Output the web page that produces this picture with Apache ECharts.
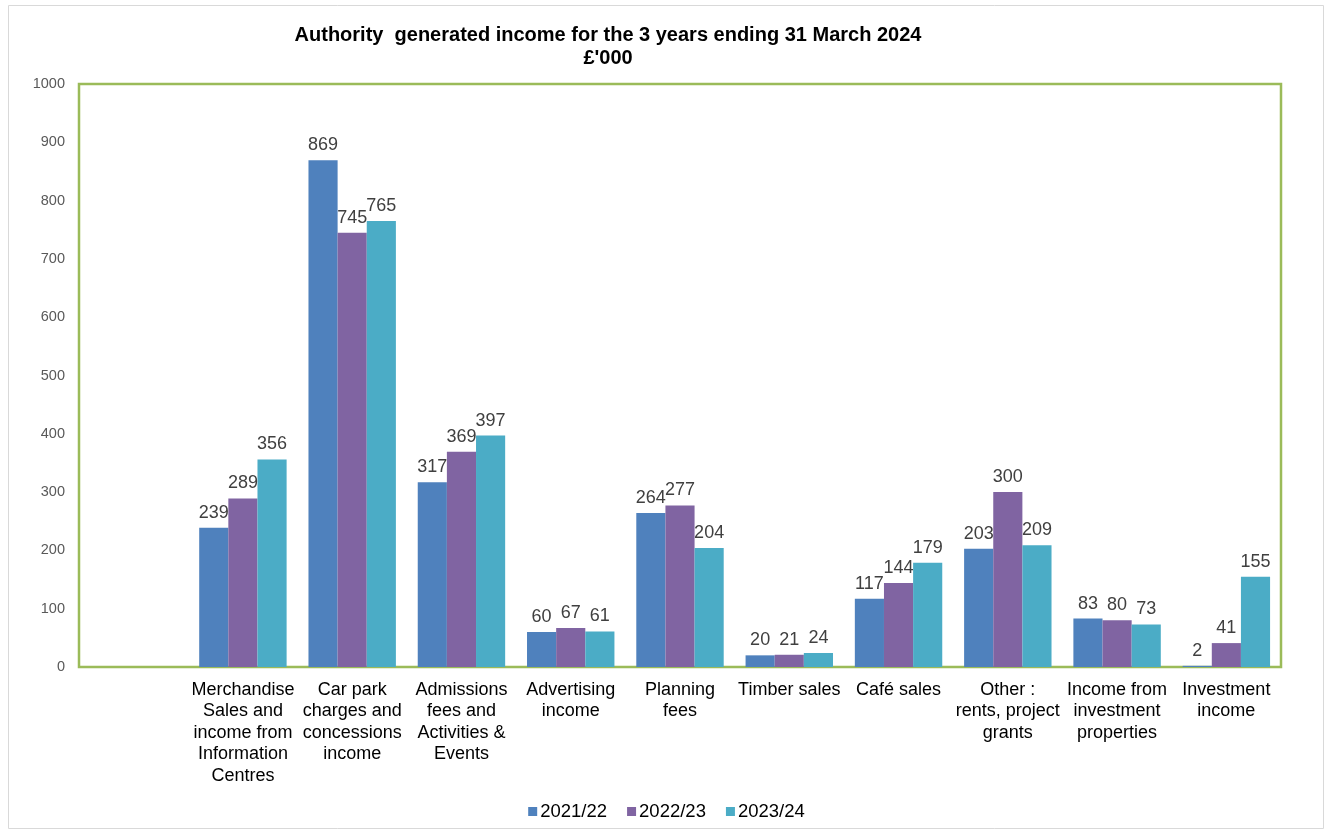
<!DOCTYPE html>
<html><head><meta charset="utf-8">
<script src="https://cdn.jsdelivr.net/npm/echarts@6/dist/echarts.min.js"></script>
<style>html,body{margin:0;padding:0;background:#fff}#c{width:1333px;height:831px}</style>
</head><body><div id="c"></div>
<script>
const categories = ['', 'Merchandise\nSales and\nincome from\nInformation\nCentres', 'Car park\ncharges and\nconcessions\nincome', 'Admissions\nfees and\nActivities &\nEvents', 'Advertising\nincome', 'Planning\nfees', 'Timber sales', 'Café sales', 'Other :\nrents, project\ngrants', 'Income from\ninvestment\nproperties', 'Investment\nincome'];
const s2122 = [null, 239, 869, 317, 60, 264, 20, 117, 203, 83, 2];
const s2223 = [null, 289, 745, 369, 67, 277, 21, 144, 300, 80, 41];
const s2324 = [null, 356, 765, 397, 61, 204, 24, 179, 209, 73, 155];
const seriesNames = ['2021/22', '2022/23', '2023/24'];
const colors = ['#4F81BD', '#8064A2', '#4BACC6'];

const chart = echarts.init(document.getElementById('c'));
const font = 'Liberation Sans, Arial, sans-serif';
const mk = (name, data, color) => ({
  name, type: 'bar', data, barGap: '0%', barCategoryGap: '20%',
  itemStyle: { color },
  label: { show: true, position: 'top', distance: 6, color: '#404040', fontSize: 18, fontFamily: font }
});
chart.setOption({
  animation: false,
  color: colors,
  graphic: [{ type: 'rect', shape: { x: 8.5, y: 5.5, width: 1315, height: 823 }, style: { fill: 'none', stroke: '#d9d9d9', lineWidth: 1 }, z: -1 }],
  title: {
    text: "Authority  generated income for the 3 years ending 31 March 2024\n£'000",
    left: 603, top: 19, textAlign: 'center',
    textStyle: { fontFamily: font, fontSize: 20, fontWeight: 'bold', color: '#000', lineHeight: 23 }
  },
  legend: {
    bottom: 5, left: 'center', itemWidth: 9, itemHeight: 9, itemGap: 20,
    icon: 'rect',
    textStyle: { fontFamily: font, fontSize: 18.5, color: '#000', padding: [0, 0, 0, -2] },
    data: seriesNames
  },
  grid: { left: 79, right: 52, top: 84, bottom: 164, show: true, borderColor: '#9BBB59', borderWidth: 2.5, backgroundColor: 'transparent' },
  xAxis: {
    type: 'category', data: categories,
    axisLine: { show: false }, axisTick: { show: false },
    axisLabel: { interval: 0, fontFamily: font, fontSize: 18, color: '#000', lineHeight: 21.5, margin: 12 }
  },
  yAxis: {
    type: 'value', min: 0, max: 1000, interval: 100,
    splitLine: { show: false }, axisLine: { show: false }, axisTick: { show: false },
    axisLabel: { fontFamily: font, fontSize: 14.5, color: '#595959', margin: 14, formatter: function (v) { return String(v); } }
  },
  series: [mk(seriesNames[0], s2122, colors[0]), mk(seriesNames[1], s2223, colors[1]), mk(seriesNames[2], s2324, colors[2])]
});
</script></body></html>
